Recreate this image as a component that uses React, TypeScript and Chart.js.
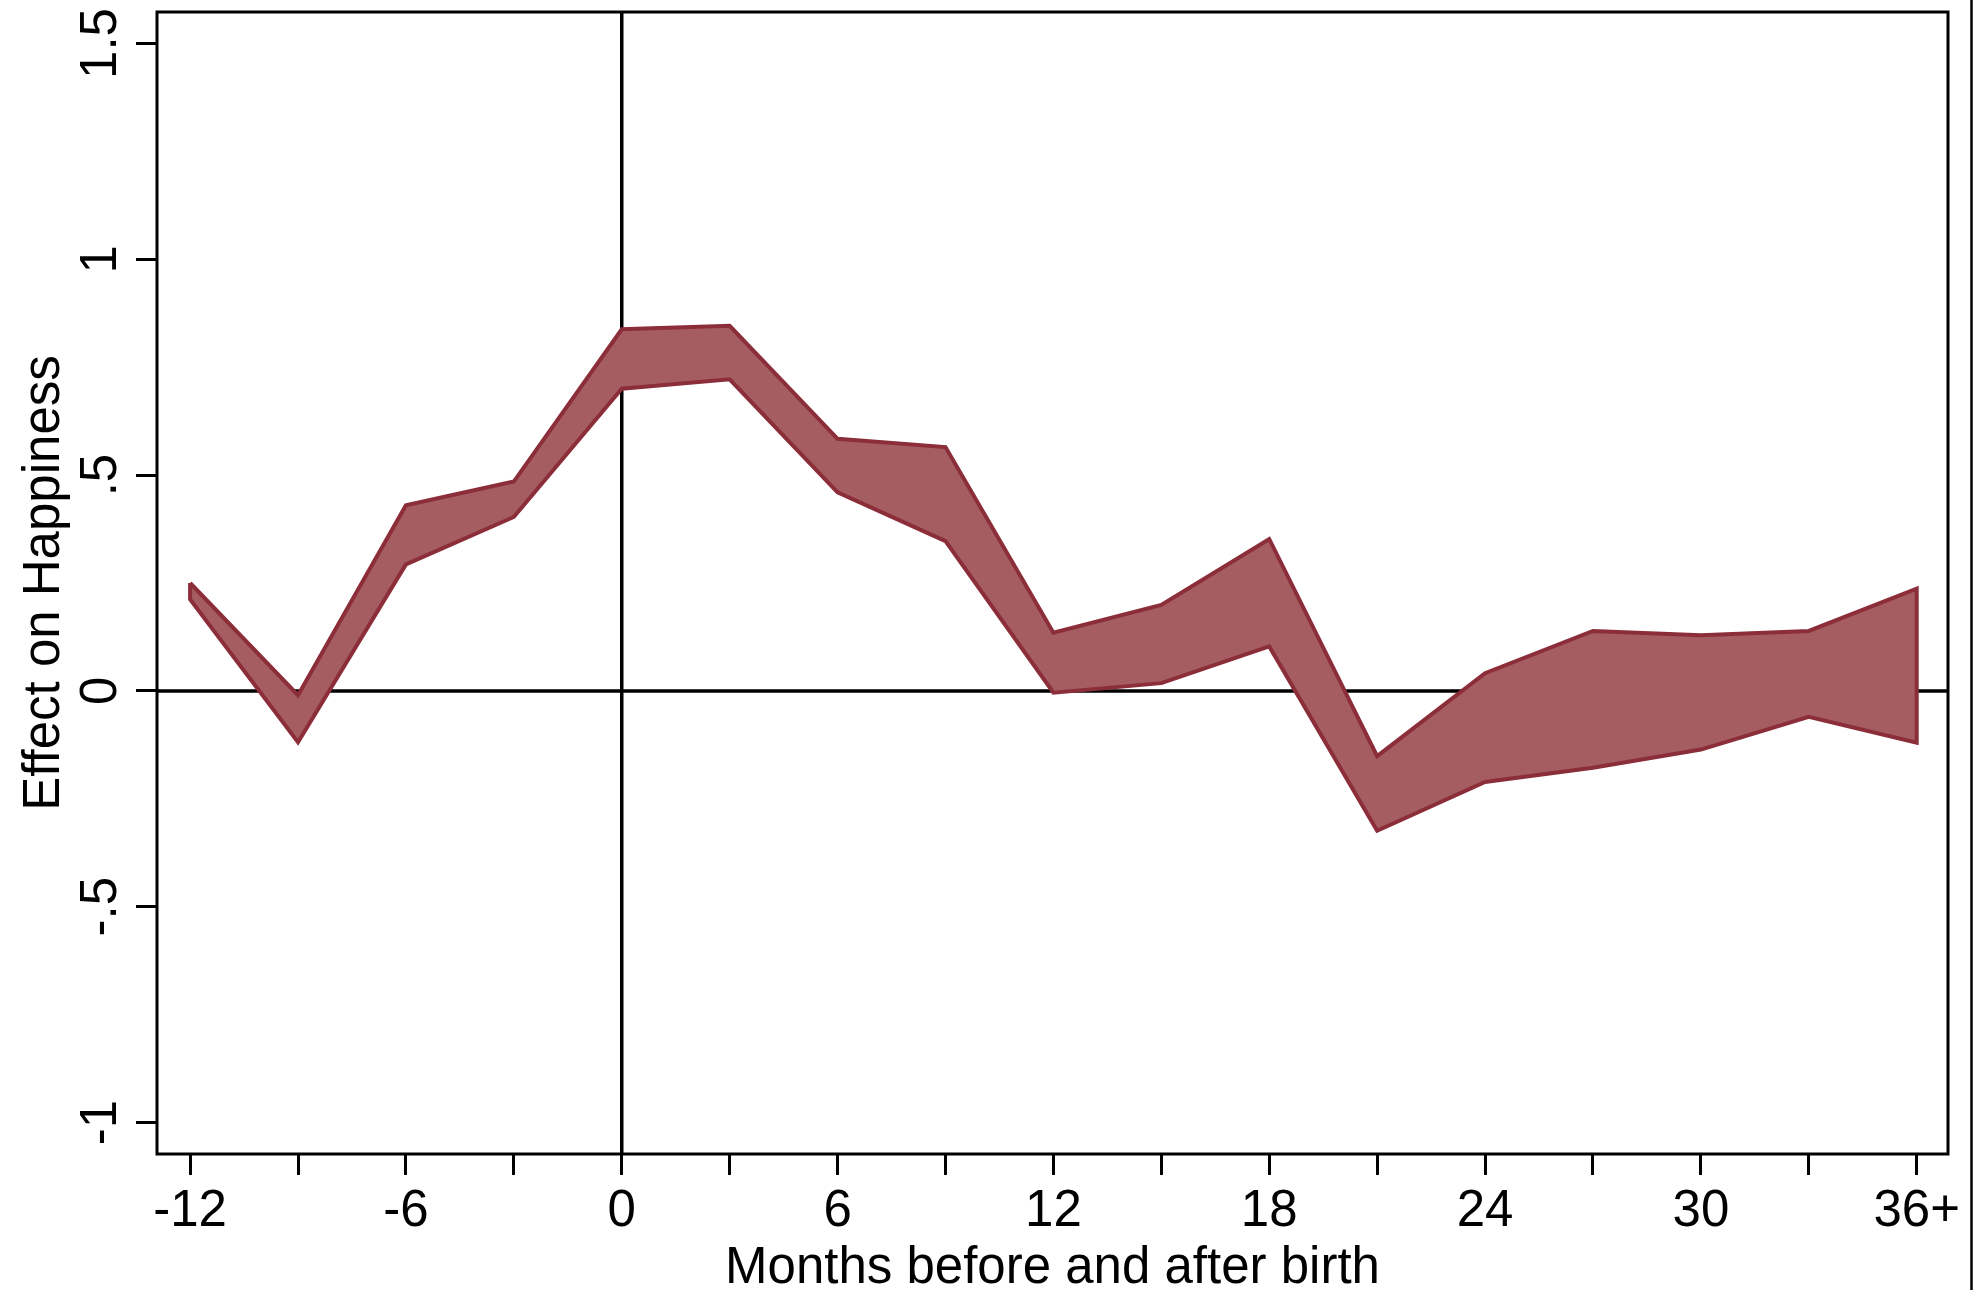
import React, { useEffect, useRef } from 'react';
import { Chart, registerables } from 'chart.js';

Chart.register(...registerables);

// Months relative to birth (last bin is 36 and beyond)
const months = [-12, -9, -6, -3, 0, 3, 6, 9, 12, 15, 18, 21, 24, 27, 30, 33, 36];

// Upper and lower bounds of the confidence band for the effect on happiness
const upperBound = [0.25, -0.01, 0.43, 0.485, 0.838, 0.846, 0.584, 0.565, 0.135, 0.199, 0.352, -0.151, 0.041, 0.139, 0.129, 0.139, 0.237];
const lowerBound = [0.212, -0.119, 0.293, 0.403, 0.7, 0.722, 0.46, 0.347, -0.004, 0.018, 0.103, -0.324, -0.211, -0.178, -0.136, -0.06, -0.12];

// Axis ticks and their labels
const xTickValues = [-12, -6, 0, 6, 12, 18, 24, 30, 36];
const xTickLabels = ['-12', '-6', '0', '6', '12', '18', '24', '30', '36+'];
const yTickValues = [-1, -0.5, 0, 0.5, 1, 1.5];
const yTickLabels = ['-1', '-.5', '0', '.5', '1', '1.5'];

const xTitle = 'Months before and after birth';
const yTitle = 'Effect on Happiness';

const FONT = '"Liberation Sans", Arial, Helvetica, sans-serif';
const BAND_FILL = '#a55d62';
const BAND_EDGE = '#8b2e39';

const W = 1982;
const H = 1290;

export default function App() {
  const canvasRef = useRef<HTMLCanvasElement | null>(null);

  useEffect(() => {
    const canvas = canvasRef.current;
    if (!canvas) return;

    // Closed outline: along the upper bound, then back along the lower bound
    const bandPoints = [
      ...months.map((m, i) => ({ x: m, y: upperBound[i] })),
      ...months.map((m, i) => ({ x: m, y: lowerBound[i] })).reverse(),
      { x: months[0], y: upperBound[0] },
    ];

    const referenceLines = {
      id: 'referenceLines',
      beforeDatasetsDraw(chart: any) {
        const { ctx, chartArea, scales } = chart;
        const y0 = scales.y.getPixelForValue(0);
        const x0 = scales.x.getPixelForValue(0);
        ctx.save();
        ctx.strokeStyle = '#000';
        ctx.lineWidth = 3.5;
        ctx.beginPath();
        ctx.moveTo(chartArea.left, y0);
        ctx.lineTo(chartArea.right, y0);
        ctx.moveTo(x0, chartArea.top);
        ctx.lineTo(x0, chartArea.bottom);
        ctx.stroke();
        ctx.restore();
      },
    };

    const frameAndText = {
      id: 'frameAndText',
      afterDraw(chart: any) {
        const { ctx, chartArea, scales } = chart;
        const { left, right, top, bottom } = chartArea;
        ctx.save();

        // plot region border
        ctx.strokeStyle = '#000';
        ctx.lineWidth = 3;
        ctx.strokeRect(left, top, right - left, bottom - top);

        // outer frame line on the right
        ctx.lineWidth = 2.5;
        ctx.beginPath();
        ctx.moveTo(1971.5, 0);
        ctx.lineTo(1971.5, H);
        ctx.stroke();

        ctx.fillStyle = '#000';
        ctx.font = `51px ${FONT}`;

        // x tick labels
        ctx.textAlign = 'center';
        ctx.textBaseline = 'alphabetic';
        xTickValues.forEach((v, i) => {
          ctx.fillText(xTickLabels[i], scales.x.getPixelForValue(v), bottom + 72);
        });

        // y tick labels, rotated
        yTickValues.forEach((v, i) => {
          ctx.save();
          ctx.translate(left - 41, scales.y.getPixelForValue(v));
          ctx.rotate(-Math.PI / 2);
          ctx.fillText(yTickLabels[i], 0, 0);
          ctx.restore();
        });

        // axis titles
        ctx.fillText(xTitle, (left + right) / 2, bottom + 129);
        ctx.save();
        ctx.translate(59, (top + bottom) / 2);
        ctx.rotate(-Math.PI / 2);
        ctx.fillText(yTitle, 0, 0);
        ctx.restore();

        ctx.restore();
      },
    };

    const chart = new Chart(canvas, {
      type: 'line',
      data: {
        datasets: [
          {
            data: bandPoints,
            borderColor: BAND_EDGE,
            backgroundColor: BAND_FILL,
            borderWidth: 4,
            borderJoinStyle: 'miter',
            fill: 'shape',
            pointRadius: 0,
            tension: 0,
          },
        ],
      },
      options: {
        animation: false,
        responsive: false,
        devicePixelRatio: 1,
        events: [],
        layout: { padding: { top: 12, right: 34, left: 0, bottom: 0 } },
        plugins: {
          legend: { display: false },
          tooltip: { enabled: false },
        },
        scales: {
          x: {
            type: 'linear',
            min: -12.92,
            max: 36.87,
            afterBuildTicks: (scale: any) => {
              scale.ticks = months.map((m) => ({ value: m }));
            },
            afterFit: (scale: any) => {
              scale.height = 136;
            },
            ticks: { display: false },
            border: { display: false },
            grid: {
              display: true,
              drawOnChartArea: false,
              drawTicks: true,
              tickLength: 21,
              tickWidth: 3,
              tickColor: '#000',
            },
          },
          y: {
            type: 'linear',
            min: -1.073,
            max: 1.573,
            afterBuildTicks: (scale: any) => {
              scale.ticks = yTickValues.map((v) => ({ value: v }));
            },
            afterFit: (scale: any) => {
              scale.width = 157;
            },
            ticks: { display: false },
            border: { display: false },
            grid: {
              display: true,
              drawOnChartArea: false,
              drawTicks: true,
              tickLength: 21,
              tickWidth: 3,
              tickColor: '#000',
            },
          },
        },
      },
      plugins: [referenceLines, frameAndText],
    } as any);

    return () => {
      chart.destroy();
    };
  }, []);

  return (
    <div style={{ position: 'fixed', left: 0, top: 0, width: W, height: H, background: '#fff' }}>
      <canvas ref={canvasRef} width={W} height={H} style={{ width: W, height: H, display: 'block' }} />
    </div>
  );
}
